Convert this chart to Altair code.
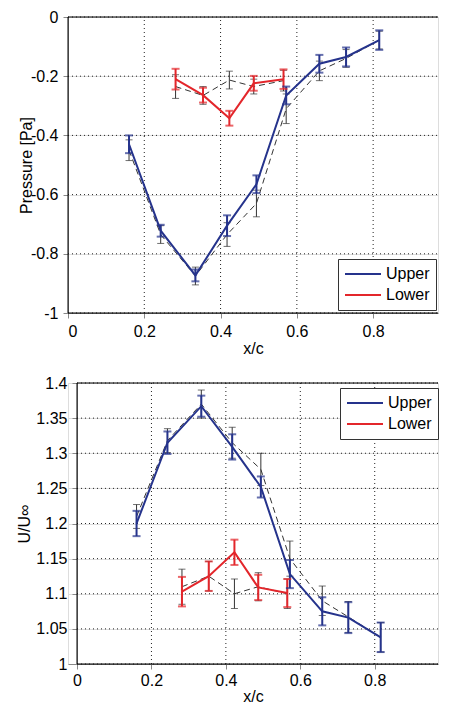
import altair as alt
import pandas as pd

# ---- data ----
x_upper = [0.16, 0.243, 0.334, 0.417, 0.494, 0.572, 0.659, 0.729, 0.816]
x_lower = [0.282, 0.354, 0.423, 0.487, 0.565]

# top panel: pressure
p_upper = [-0.43, -0.722, -0.873, -0.705, -0.565, -0.265, -0.158, -0.135, -0.078]
p_upper_err = [0.03, 0.02, 0.02, 0.035, 0.03, 0.03, 0.03, 0.032, 0.033]
p_upper_ref = [-0.45, -0.735, -0.875, -0.735, -0.63, -0.31, -0.182, -0.14, -0.078]
p_upper_ref_err = [0.035, 0.03, 0.03, 0.04, 0.045, 0.05, 0.033, 0.03, 0.03]
p_lower = [-0.21, -0.264, -0.342, -0.224, -0.21]
p_lower_err = [0.035, 0.025, 0.025, 0.025, 0.033]
p_lower_ref = [-0.235, -0.265, -0.213, -0.235, -0.215]
p_lower_ref_err = [0.04, 0.03, 0.03, 0.025, 0.035]

# bottom panel: velocity ratio
u_upper = [1.2, 1.315, 1.367, 1.309, 1.252, 1.128, 1.075, 1.066, 1.038]
u_upper_err = [0.018, 0.016, 0.015, 0.018, 0.015, 0.02, 0.02, 0.022, 0.021]
u_upper_ref = [1.21, 1.318, 1.37, 1.315, 1.277, 1.15, 1.09, 1.067, 1.038]
u_upper_ref_err = [0.017, 0.017, 0.02, 0.022, 0.023, 0.025, 0.021, 0.022, 0.021]
u_lower = [1.103, 1.125, 1.159, 1.109, 1.101]
u_lower_err = [0.021, 0.021, 0.018, 0.018, 0.02]
u_lower_ref = [1.11, 1.125, 1.1, 1.11, 1.1]
u_lower_ref_err = [0.025, 0.021, 0.021, 0.02, 0.021]

series_names = ["Upper", "Lower"]
x_ticks = [0, 0.2, 0.4, 0.6, 0.8]
p_ticks = [-1, -0.8, -0.6, -0.4, -0.2, 0]
u_ticks = [1, 1.05, 1.1, 1.15, 1.2, 1.25, 1.3, 1.35, 1.4]

BLUE = "#25338c"
RED = "#e3262b"
REF = "#333333"
FONT = "Liberation Sans"


def frame(xs, ys, errs, series):
    return pd.DataFrame({
        "x": xs, "y": ys,
        "lo": [a - b for a, b in zip(ys, errs)],
        "hi": [a + b for a, b in zip(ys, errs)],
        "series": series,
    })


def panel(main_u, main_ue, ref_u, ref_ue, main_l, main_le, ref_l, ref_le,
          ydom, yticks, ytitle, w, h, xstart, x_end, yoff, lx, ly, fs, tpad, xlp, xtp):
    main = pd.concat([frame(x_upper, main_u, main_ue, "Upper"),
                      frame(x_lower, main_l, main_le, "Lower")])
    ref = pd.concat([frame(x_upper, ref_u, ref_ue, "Upper"),
                     frame(x_lower, ref_l, ref_le, "Lower")])

    xscale = alt.Scale(domain=[xstart, x_end], nice=False, zero=False)
    yscale = alt.Scale(domain=ydom, nice=False, zero=False)
    xaxis = alt.Axis(values=x_ticks, title="x/c", labelExpr="'' + datum.value",
                     labelFontSize=fs, titleFontSize=16, titleFontWeight="normal",
                     labelPadding=xlp, titlePadding=xtp)
    yaxis = alt.Axis(values=yticks, title=ytitle, offset=yoff,
                     labelExpr="'' + datum.value", labelFontSize=fs,
                     titleFontSize=16, titleFontWeight="normal",
                     labelOverlap=False, labelPadding=5, titlePadding=tpad)
    xenc = alt.X("x:Q", scale=xscale, axis=xaxis)
    yenc = alt.Y("y:Q", scale=yscale, axis=yaxis)
    color = alt.Color("series:N",
                      scale=alt.Scale(domain=series_names, range=[BLUE, RED]))

    # dotted grid and frame drawn through the panel's own scales
    gy = alt.Chart(pd.DataFrame({"v": yticks})).mark_rule(
        color="#222", strokeWidth=1, strokeDash=[1, 3]).encode(
        y=alt.Y("v:Q", scale=yscale, axis=yaxis),
        x=alt.datum(0, scale=xscale, axis=xaxis), x2=alt.datum(x_end))
    gx = alt.Chart(pd.DataFrame({"v": x_ticks[1:]})).mark_rule(
        color="#222", strokeWidth=1, strokeDash=[1, 3]).encode(
        x=alt.X("v:Q", scale=xscale, axis=xaxis),
        y=alt.datum(ydom[0], scale=yscale, axis=yaxis), y2=alt.datum(ydom[1]))
    fr = pd.DataFrame({"x0": [0, 0, 0], "x1": [x_end, x_end, 0],
                       "y0": [ydom[0], ydom[1], ydom[0]],
                       "y1": [ydom[0], ydom[1], ydom[1]]})
    box = alt.Chart(fr).mark_rule(color="black", strokeWidth=1).encode(
        x=alt.X("x0:Q", scale=xscale, axis=xaxis), x2="x1:Q",
        y=alt.Y("y0:Q", scale=yscale, axis=yaxis), y2="y1:Q")

    base_ref = alt.Chart(ref)
    ref_line = base_ref.mark_line(color=REF, strokeWidth=1, strokeDash=[6, 4]).encode(
        x=xenc, y=yenc, detail="series:N")
    ref_rule = base_ref.mark_rule(color=REF, strokeWidth=1).encode(
        x=xenc, y=alt.Y("lo:Q", scale=yscale, axis=yaxis), y2="hi:Q")
    ref_cap = base_ref.transform_fold(["lo", "hi"], as_=["k", "v"]).mark_tick(
        orient="horizontal", size=7, thickness=1, color=REF).encode(
        x=xenc, y=alt.Y("v:Q", scale=yscale, axis=yaxis))

    base = alt.Chart(main)
    line = base.mark_line(strokeWidth=2).encode(
        x=xenc, y=yenc,
        color=color.legend(alt.Legend(
            title=None, orient="none", legendX=lx, legendY=ly,
            fillColor="white", strokeColor="#333", padding=6,
            symbolType="stroke", symbolSize=1296, symbolStrokeWidth=2,
            clipHeight=18, rowPadding=3,
            labelFontSize=16, labelFont=FONT, labelColor="black",
            labelOffset=4)))
    rule = base.mark_rule(strokeWidth=2).encode(
        x=xenc, y=alt.Y("lo:Q", scale=yscale, axis=yaxis), y2="hi:Q",
        color=color.legend(None))
    cap = base.transform_fold(["lo", "hi"], as_=["k", "v"]).mark_tick(
        orient="horizontal", size=8, thickness=2).encode(
        x=xenc, y=alt.Y("v:Q", scale=yscale, axis=yaxis), color=color.legend(None))

    return alt.layer(gy, gx, box, ref_line, ref_rule, ref_cap, line, rule, cap).properties(
        width=w, height=h)


top = panel(p_upper, p_upper_err, p_upper_ref, p_upper_ref_err,
            p_lower, p_lower_err, p_lower_ref, p_lower_ref_err,
            [-1, 0], p_ticks, "Pressure [Pa]", 370, 296, 0, 0.97, 0,
            270, 242, 16, -4, 5, 1)
bottom = panel(u_upper, u_upper_err, u_upper_ref, u_upper_ref_err,
               u_lower, u_lower_err, u_lower_ref, u_lower_ref_err,
               [1, 1.4], u_ticks, "U/U∞", 370, 281, -0.0242, 0.97, -9,
               272, 5, 16, 3, 3, 0)

chart = alt.vconcat(top, bottom, spacing=17).resolve_scale(
    color="independent").resolve_legend(color="independent").properties(
    padding={"left": 8, "top": 0, "right": 0, "bottom": 0}
).configure_view(stroke=None).configure_axis(
    labelFont=FONT, titleFont=FONT, labelColor="black", titleColor="black",
    titleFontWeight="normal", domain=False, ticks=False, grid=False
).configure(background="white")

chart.save("out.html", embed_options={"renderer": "svg", "actions": False})
